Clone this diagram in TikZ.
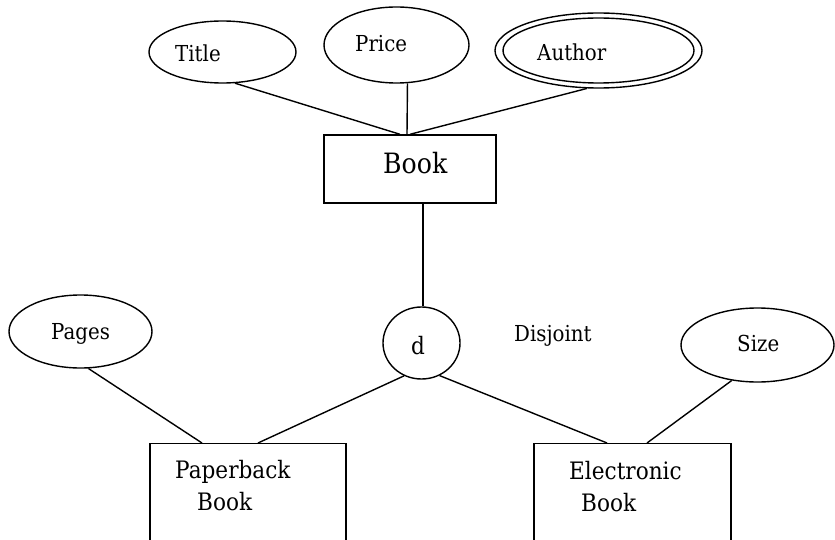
\documentclass[tikz,border=0pt]{standalone}
\usepackage{fontspec}
\setmainfont[FakeStretch=0.9]{DejaVu Serif}
\usetikzlibrary{shapes.geometric}

\tikzset{
  ln/.style={line width=1.4pt, black},
  attr/.style={ellipse, draw, ln, inner sep=0pt},
  entity/.style={rectangle, draw, ln, inner sep=0pt},
  txt/.style={anchor=base west, inner sep=0pt, text=black},
  small/.style={txt, font=\fontsize{22}{26}\selectfont},
  mid/.style={txt, font=\fontsize{24}{28}\selectfont},
  big/.style={txt, font=\fontsize{28}{32}\selectfont},
}

\begin{document}
\begin{tikzpicture}[x=1pt, y=-1pt]
  \useasboundingbox (0,0) rectangle (835,540);
  \clip (0,0) rectangle (835,540);
  \fill[white] (0,0) rectangle (835,540);

  % attributes of Book
  \node[attr, minimum width=147pt, minimum height=62pt] (title) at (222.5,52) {};
  \node[attr, minimum width=145pt, minimum height=76pt] (price) at (396.5,45) {};
  \node[attr, minimum width=207pt, minimum height=75pt] (author) at (598.5,50.5) {};
  \node[attr, minimum width=191pt, minimum height=65pt] (authorin) at (author.center) {};
  \node[small] (titletext) at (175,62) {Title};
  \node[small] (pricetext) at (355,52) {Price};
  \node[small] (authortext) at (537,61) {Author};

  % superclass
  \node[entity, minimum width=172pt, minimum height=68pt] (book) at (410,169) {};
  \node[big] (booktext) at (383,174) {Book};

  % disjoint specialisation
  \node[attr, minimum width=77pt, minimum height=72pt] (disj) at (421.5,343) {};
  \node[mid] (dtext) at (411,354) {d};
  \node[small] (disjtext) at (514,341) {Disjoint};

  % subclasses and their attributes
  \node[entity, anchor=north, minimum width=196pt, minimum height=150pt] (paper) at (248,443) {};
  \node[entity, anchor=north, minimum width=197pt, minimum height=150pt] (ebook) at (632.5,443) {};
  \node[mid] (papertext) at (175,478) {Paperback};
  \node[mid] (paperbook) at (197,510) {Book};
  \node[mid] (ebooktext) at (569,479) {Electronic};
  \node[mid] (ebookbook) at (581,511) {Book};

  \node[attr, minimum width=143pt, minimum height=73pt] (pages) at (80.5,331.5) {};
  \node[attr, minimum width=153pt, minimum height=74pt] (size) at (757.5,345) {};
  \node[small] (pagestext) at (51,339) {Pages};
  \node[small] (sizetext) at (737,351) {Size};

  % connectors
  \coordinate (bookfoot) at ([xshift=13pt]book.south);
  \draw[ln] (title.-68) -- ([xshift=-10pt]book.north);
  \draw[ln] (price.-74) -- ([xshift=-3pt]book.north);
  \draw[ln] (author.-107) -- (book.north);
  \draw[ln] (bookfoot) -- (bookfoot |- disj.north);
  \draw[ln] (disj.-118) -- ([xshift=10pt]paper.north);
  \draw[ln] (disj.-61) -- ([xshift=-25.5pt]ebook.north);
  \draw[ln] (pages.-78) -- ([xshift=-46pt]paper.north);
  \draw[ln] (size.-126) -- ([xshift=14.5pt]ebook.north);
\end{tikzpicture}
\end{document}
